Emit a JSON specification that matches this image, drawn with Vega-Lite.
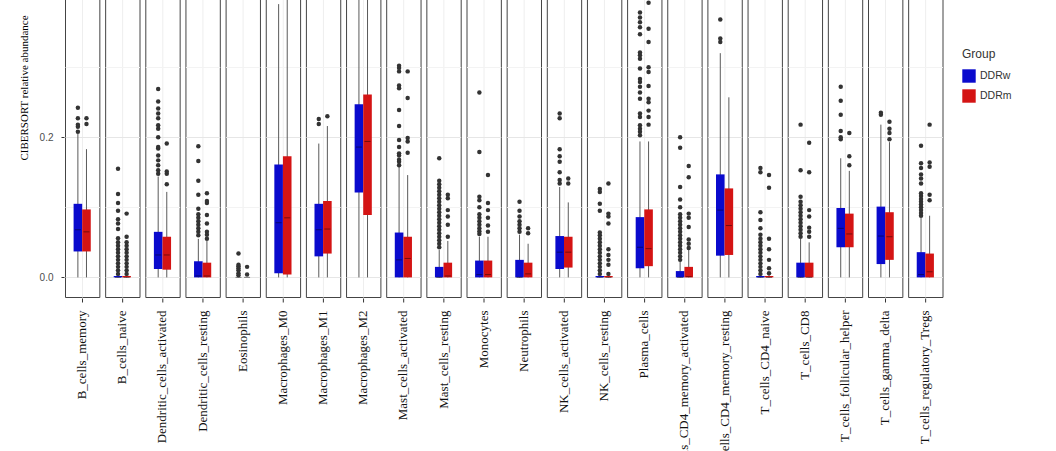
{
  "$schema": "https://vega.github.io/schema/vega-lite/v6.json",
  "background": "white",
  "padding": {"left": 18, "top": -123, "right": 0, "bottom": 0},
  "config": {
    "view": {"stroke": "#444444", "strokeWidth": 1},
    "font": "Liberation Sans",
    "legend": {"titleFont": "Liberation Sans", "titleFontSize": 12, "titleFontWeight": "normal", "titleColor": "#333333", "titlePadding": 8, "labelFont": "Liberation Sans", "labelFontSize": 10.5, "labelColor": "#333333", "symbolType": "square", "symbolSize": 180, "symbolStrokeWidth": 0, "symbolOpacity": 1, "rowPadding": 6}
  },
  "data": {"values": [
    {"cell":"B_cells_memory","group":"DDRw","lo":0,"q1":0.037,"med":0.068,"q3":0.105,"hi":0.205},
    {"cell":"B_cells_memory","group":"DDRm","lo":0,"q1":0.037,"med":0.065,"q3":0.097,"hi":0.183},
    {"cell":"B_cells_naive","group":"DDRw","lo":0,"q1":0,"med":0,"q3":0.002,"hi":0.004},
    {"cell":"B_cells_naive","group":"DDRm","lo":0,"q1":0,"med":0,"q3":0.002,"hi":0.004},
    {"cell":"Dendritic_cells_activated","group":"DDRw","lo":0,"q1":0.012,"med":0.032,"q3":0.065,"hi":0.144},
    {"cell":"Dendritic_cells_activated","group":"DDRm","lo":0,"q1":0.011,"med":0.032,"q3":0.058,"hi":0.122},
    {"cell":"Dendritic_cells_resting","group":"DDRw","lo":0,"q1":0,"med":0.002,"q3":0.023,"hi":0.055},
    {"cell":"Dendritic_cells_resting","group":"DDRm","lo":0,"q1":0,"med":0.002,"q3":0.021,"hi":0.052},
    {"cell":"Eosinophils","group":"DDRw","lo":0,"q1":0,"med":0,"q3":0,"hi":0},
    {"cell":"Eosinophils","group":"DDRm","lo":0,"q1":0,"med":0,"q3":0,"hi":0},
    {"cell":"Macrophages_M0","group":"DDRw","lo":0,"q1":0.006,"med":0.078,"q3":0.161,"hi":0.39},
    {"cell":"Macrophages_M0","group":"DDRm","lo":0,"q1":0.004,"med":0.085,"q3":0.173,"hi":0.42},
    {"cell":"Macrophages_M1","group":"DDRw","lo":0,"q1":0.030,"med":0.068,"q3":0.105,"hi":0.191},
    {"cell":"Macrophages_M1","group":"DDRm","lo":0,"q1":0.034,"med":0.069,"q3":0.109,"hi":0.216},
    {"cell":"Macrophages_M2","group":"DDRw","lo":0,"q1":0.121,"med":0.186,"q3":0.247,"hi":0.43},
    {"cell":"Macrophages_M2","group":"DDRm","lo":0,"q1":0.089,"med":0.194,"q3":0.261,"hi":0.5},
    {"cell":"Mast_cells_activated","group":"DDRw","lo":0,"q1":0,"med":0.025,"q3":0.064,"hi":0.158},
    {"cell":"Mast_cells_activated","group":"DDRm","lo":0,"q1":0,"med":0.027,"q3":0.058,"hi":0.146},
    {"cell":"Mast_cells_resting","group":"DDRw","lo":0,"q1":0,"med":0,"q3":0.015,"hi":0.039},
    {"cell":"Mast_cells_resting","group":"DDRm","lo":0,"q1":0,"med":0.002,"q3":0.021,"hi":0.052},
    {"cell":"Monocytes","group":"DDRw","lo":0,"q1":0,"med":0.004,"q3":0.024,"hi":0.058},
    {"cell":"Monocytes","group":"DDRm","lo":0,"q1":0,"med":0.004,"q3":0.024,"hi":0.058},
    {"cell":"Neutrophils","group":"DDRw","lo":0,"q1":0,"med":0,"q3":0.025,"hi":0.061},
    {"cell":"Neutrophils","group":"DDRm","lo":0,"q1":0,"med":0.005,"q3":0.021,"hi":0.048},
    {"cell":"NK_cells_activated","group":"DDRw","lo":0,"q1":0.012,"med":0.036,"q3":0.059,"hi":0.129},
    {"cell":"NK_cells_activated","group":"DDRm","lo":0,"q1":0.014,"med":0.036,"q3":0.058,"hi":0.107},
    {"cell":"NK_cells_resting","group":"DDRw","lo":0,"q1":0,"med":0,"q3":0.002,"hi":0.004},
    {"cell":"NK_cells_resting","group":"DDRm","lo":0,"q1":0,"med":0,"q3":0.002,"hi":0.004},
    {"cell":"Plasma_cells","group":"DDRw","lo":0,"q1":0.013,"med":0.043,"q3":0.086,"hi":0.194},
    {"cell":"Plasma_cells","group":"DDRm","lo":0,"q1":0.016,"med":0.041,"q3":0.097,"hi":0.194},
    {"cell":"T_cells_CD4_memory_activated","group":"DDRw","lo":0,"q1":0,"med":0,"q3":0.009,"hi":0.023},
    {"cell":"T_cells_CD4_memory_activated","group":"DDRm","lo":0,"q1":0,"med":0.001,"q3":0.015,"hi":0.039},
    {"cell":"T_cells_CD4_memory_resting","group":"DDRw","lo":0,"q1":0.031,"med":0.096,"q3":0.147,"hi":0.32},
    {"cell":"T_cells_CD4_memory_resting","group":"DDRm","lo":0,"q1":0.032,"med":0.074,"q3":0.127,"hi":0.257},
    {"cell":"T_cells_CD4_naive","group":"DDRw","lo":0,"q1":0,"med":0,"q3":0.002,"hi":0.004},
    {"cell":"T_cells_CD4_naive","group":"DDRm","lo":0,"q1":0,"med":0,"q3":0.002,"hi":0.004},
    {"cell":"T_cells_CD8","group":"DDRw","lo":0,"q1":0,"med":0,"q3":0.021,"hi":0.055},
    {"cell":"T_cells_CD8","group":"DDRm","lo":0,"q1":0,"med":0,"q3":0.021,"hi":0.05},
    {"cell":"T_cells_follicular_helper","group":"DDRw","lo":0,"q1":0.043,"med":0.07,"q3":0.099,"hi":0.17},
    {"cell":"T_cells_follicular_helper","group":"DDRm","lo":0,"q1":0.043,"med":0.062,"q3":0.091,"hi":0.152},
    {"cell":"T_cells_gamma_delta","group":"DDRw","lo":0,"q1":0.019,"med":0.059,"q3":0.101,"hi":0.218},
    {"cell":"T_cells_gamma_delta","group":"DDRm","lo":0,"q1":0.025,"med":0.058,"q3":0.093,"hi":0.193},
    {"cell":"T_cells_regulatory_Tregs","group":"DDRw","lo":0,"q1":0,"med":0.004,"q3":0.036,"hi":0.085},
    {"cell":"T_cells_regulatory_Tregs","group":"DDRm","lo":0,"q1":0,"med":0.008,"q3":0.034,"hi":0.088},

    {"cell":"B_cells_memory","group":"DDRw","v":0.208},{"cell":"B_cells_memory","group":"DDRw","v":0.215},{"cell":"B_cells_memory","group":"DDRw","v":0.218},{"cell":"B_cells_memory","group":"DDRw","v":0.227},{"cell":"B_cells_memory","group":"DDRw","v":0.242},
    {"cell":"B_cells_memory","group":"DDRm","v":0.219},{"cell":"B_cells_memory","group":"DDRm","v":0.227},

    {"cell":"B_cells_naive","group":"DDRw","v":0.005},{"cell":"B_cells_naive","group":"DDRw","v":0.01},{"cell":"B_cells_naive","group":"DDRw","v":0.015},{"cell":"B_cells_naive","group":"DDRw","v":0.02},{"cell":"B_cells_naive","group":"DDRw","v":0.025},{"cell":"B_cells_naive","group":"DDRw","v":0.03},{"cell":"B_cells_naive","group":"DDRw","v":0.035},{"cell":"B_cells_naive","group":"DDRw","v":0.04},{"cell":"B_cells_naive","group":"DDRw","v":0.045},{"cell":"B_cells_naive","group":"DDRw","v":0.05},{"cell":"B_cells_naive","group":"DDRw","v":0.056},{"cell":"B_cells_naive","group":"DDRw","v":0.069},{"cell":"B_cells_naive","group":"DDRw","v":0.077},{"cell":"B_cells_naive","group":"DDRw","v":0.083},{"cell":"B_cells_naive","group":"DDRw","v":0.095},{"cell":"B_cells_naive","group":"DDRw","v":0.106},{"cell":"B_cells_naive","group":"DDRw","v":0.119},{"cell":"B_cells_naive","group":"DDRw","v":0.155},
    {"cell":"B_cells_naive","group":"DDRm","v":0.005},{"cell":"B_cells_naive","group":"DDRm","v":0.01},{"cell":"B_cells_naive","group":"DDRm","v":0.015},{"cell":"B_cells_naive","group":"DDRm","v":0.02},{"cell":"B_cells_naive","group":"DDRm","v":0.025},{"cell":"B_cells_naive","group":"DDRm","v":0.03},{"cell":"B_cells_naive","group":"DDRm","v":0.035},{"cell":"B_cells_naive","group":"DDRm","v":0.04},{"cell":"B_cells_naive","group":"DDRm","v":0.045},{"cell":"B_cells_naive","group":"DDRm","v":0.05},{"cell":"B_cells_naive","group":"DDRm","v":0.058},{"cell":"B_cells_naive","group":"DDRm","v":0.091},

    {"cell":"Dendritic_cells_activated","group":"DDRw","v":0.148},{"cell":"Dendritic_cells_activated","group":"DDRw","v":0.153},{"cell":"Dendritic_cells_activated","group":"DDRw","v":0.16},{"cell":"Dendritic_cells_activated","group":"DDRw","v":0.167},{"cell":"Dendritic_cells_activated","group":"DDRw","v":0.174},{"cell":"Dendritic_cells_activated","group":"DDRw","v":0.184},{"cell":"Dendritic_cells_activated","group":"DDRw","v":0.186},{"cell":"Dendritic_cells_activated","group":"DDRw","v":0.2},{"cell":"Dendritic_cells_activated","group":"DDRw","v":0.212},{"cell":"Dendritic_cells_activated","group":"DDRw","v":0.217},{"cell":"Dendritic_cells_activated","group":"DDRw","v":0.227},{"cell":"Dendritic_cells_activated","group":"DDRw","v":0.234},{"cell":"Dendritic_cells_activated","group":"DDRw","v":0.241},{"cell":"Dendritic_cells_activated","group":"DDRw","v":0.251},{"cell":"Dendritic_cells_activated","group":"DDRw","v":0.269},
    {"cell":"Dendritic_cells_activated","group":"DDRm","v":0.133},{"cell":"Dendritic_cells_activated","group":"DDRm","v":0.148},{"cell":"Dendritic_cells_activated","group":"DDRm","v":0.151},{"cell":"Dendritic_cells_activated","group":"DDRm","v":0.191},

    {"cell":"Dendritic_cells_resting","group":"DDRw","v":0.06},{"cell":"Dendritic_cells_resting","group":"DDRw","v":0.065},{"cell":"Dendritic_cells_resting","group":"DDRw","v":0.07},{"cell":"Dendritic_cells_resting","group":"DDRw","v":0.075},{"cell":"Dendritic_cells_resting","group":"DDRw","v":0.08},{"cell":"Dendritic_cells_resting","group":"DDRw","v":0.085},{"cell":"Dendritic_cells_resting","group":"DDRw","v":0.09},{"cell":"Dendritic_cells_resting","group":"DDRw","v":0.098},{"cell":"Dendritic_cells_resting","group":"DDRw","v":0.118},{"cell":"Dendritic_cells_resting","group":"DDRw","v":0.138},{"cell":"Dendritic_cells_resting","group":"DDRw","v":0.166},{"cell":"Dendritic_cells_resting","group":"DDRw","v":0.187},
    {"cell":"Dendritic_cells_resting","group":"DDRm","v":0.055},{"cell":"Dendritic_cells_resting","group":"DDRm","v":0.061},{"cell":"Dendritic_cells_resting","group":"DDRm","v":0.065},{"cell":"Dendritic_cells_resting","group":"DDRm","v":0.077},{"cell":"Dendritic_cells_resting","group":"DDRm","v":0.089},{"cell":"Dendritic_cells_resting","group":"DDRm","v":0.106},{"cell":"Dendritic_cells_resting","group":"DDRm","v":0.109},{"cell":"Dendritic_cells_resting","group":"DDRm","v":0.12},

    {"cell":"Eosinophils","group":"DDRw","v":0.003},{"cell":"Eosinophils","group":"DDRw","v":0.006},{"cell":"Eosinophils","group":"DDRw","v":0.01},{"cell":"Eosinophils","group":"DDRw","v":0.013},{"cell":"Eosinophils","group":"DDRw","v":0.016},{"cell":"Eosinophils","group":"DDRw","v":0.018},{"cell":"Eosinophils","group":"DDRw","v":0.034},
    {"cell":"Eosinophils","group":"DDRm","v":0.004},{"cell":"Eosinophils","group":"DDRm","v":0.015},

    {"cell":"Macrophages_M1","group":"DDRw","v":0.219},{"cell":"Macrophages_M1","group":"DDRw","v":0.226},
    {"cell":"Macrophages_M1","group":"DDRm","v":0.23},

    {"cell":"Mast_cells_activated","group":"DDRw","v":0.16},{"cell":"Mast_cells_activated","group":"DDRw","v":0.165},{"cell":"Mast_cells_activated","group":"DDRw","v":0.168},{"cell":"Mast_cells_activated","group":"DDRw","v":0.174},{"cell":"Mast_cells_activated","group":"DDRw","v":0.177},{"cell":"Mast_cells_activated","group":"DDRw","v":0.186},{"cell":"Mast_cells_activated","group":"DDRw","v":0.196},{"cell":"Mast_cells_activated","group":"DDRw","v":0.216},{"cell":"Mast_cells_activated","group":"DDRw","v":0.239},{"cell":"Mast_cells_activated","group":"DDRw","v":0.27},{"cell":"Mast_cells_activated","group":"DDRw","v":0.274},{"cell":"Mast_cells_activated","group":"DDRw","v":0.294},{"cell":"Mast_cells_activated","group":"DDRw","v":0.299},{"cell":"Mast_cells_activated","group":"DDRw","v":0.302},
    {"cell":"Mast_cells_activated","group":"DDRm","v":0.178},{"cell":"Mast_cells_activated","group":"DDRm","v":0.194},{"cell":"Mast_cells_activated","group":"DDRm","v":0.199},{"cell":"Mast_cells_activated","group":"DDRm","v":0.256},{"cell":"Mast_cells_activated","group":"DDRm","v":0.294},

    {"cell":"Mast_cells_resting","group":"DDRw","v":0.043},{"cell":"Mast_cells_resting","group":"DDRw","v":0.048},{"cell":"Mast_cells_resting","group":"DDRw","v":0.053},{"cell":"Mast_cells_resting","group":"DDRw","v":0.058},{"cell":"Mast_cells_resting","group":"DDRw","v":0.063},{"cell":"Mast_cells_resting","group":"DDRw","v":0.068},{"cell":"Mast_cells_resting","group":"DDRw","v":0.073},{"cell":"Mast_cells_resting","group":"DDRw","v":0.078},{"cell":"Mast_cells_resting","group":"DDRw","v":0.083},{"cell":"Mast_cells_resting","group":"DDRw","v":0.088},{"cell":"Mast_cells_resting","group":"DDRw","v":0.093},{"cell":"Mast_cells_resting","group":"DDRw","v":0.098},{"cell":"Mast_cells_resting","group":"DDRw","v":0.103},{"cell":"Mast_cells_resting","group":"DDRw","v":0.108},{"cell":"Mast_cells_resting","group":"DDRw","v":0.113},{"cell":"Mast_cells_resting","group":"DDRw","v":0.118},{"cell":"Mast_cells_resting","group":"DDRw","v":0.123},{"cell":"Mast_cells_resting","group":"DDRw","v":0.128},{"cell":"Mast_cells_resting","group":"DDRw","v":0.133},{"cell":"Mast_cells_resting","group":"DDRw","v":0.138},{"cell":"Mast_cells_resting","group":"DDRw","v":0.17},
    {"cell":"Mast_cells_resting","group":"DDRm","v":0.058},{"cell":"Mast_cells_resting","group":"DDRm","v":0.075},{"cell":"Mast_cells_resting","group":"DDRm","v":0.087},{"cell":"Mast_cells_resting","group":"DDRm","v":0.096},{"cell":"Mast_cells_resting","group":"DDRm","v":0.113},{"cell":"Mast_cells_resting","group":"DDRm","v":0.118},

    {"cell":"Monocytes","group":"DDRw","v":0.062},{"cell":"Monocytes","group":"DDRw","v":0.066},{"cell":"Monocytes","group":"DDRw","v":0.07},{"cell":"Monocytes","group":"DDRw","v":0.075},{"cell":"Monocytes","group":"DDRw","v":0.08},{"cell":"Monocytes","group":"DDRw","v":0.085},{"cell":"Monocytes","group":"DDRw","v":0.09},{"cell":"Monocytes","group":"DDRw","v":0.1},{"cell":"Monocytes","group":"DDRw","v":0.11},{"cell":"Monocytes","group":"DDRw","v":0.115},{"cell":"Monocytes","group":"DDRw","v":0.179},{"cell":"Monocytes","group":"DDRw","v":0.264},
    {"cell":"Monocytes","group":"DDRm","v":0.065},{"cell":"Monocytes","group":"DDRm","v":0.074},{"cell":"Monocytes","group":"DDRm","v":0.085},{"cell":"Monocytes","group":"DDRm","v":0.096},{"cell":"Monocytes","group":"DDRm","v":0.106},{"cell":"Monocytes","group":"DDRm","v":0.146},

    {"cell":"Neutrophils","group":"DDRw","v":0.065},{"cell":"Neutrophils","group":"DDRw","v":0.07},{"cell":"Neutrophils","group":"DDRw","v":0.075},{"cell":"Neutrophils","group":"DDRw","v":0.08},{"cell":"Neutrophils","group":"DDRw","v":0.087},{"cell":"Neutrophils","group":"DDRw","v":0.095},{"cell":"Neutrophils","group":"DDRw","v":0.108},
    {"cell":"Neutrophils","group":"DDRm","v":0.063},{"cell":"Neutrophils","group":"DDRm","v":0.07},

    {"cell":"NK_cells_activated","group":"DDRw","v":0.134},{"cell":"NK_cells_activated","group":"DDRw","v":0.139},{"cell":"NK_cells_activated","group":"DDRw","v":0.15},{"cell":"NK_cells_activated","group":"DDRw","v":0.165},{"cell":"NK_cells_activated","group":"DDRw","v":0.173},{"cell":"NK_cells_activated","group":"DDRw","v":0.183},{"cell":"NK_cells_activated","group":"DDRw","v":0.227},{"cell":"NK_cells_activated","group":"DDRw","v":0.234},
    {"cell":"NK_cells_activated","group":"DDRm","v":0.134},{"cell":"NK_cells_activated","group":"DDRm","v":0.141},

    {"cell":"NK_cells_resting","group":"DDRw","v":0.005},{"cell":"NK_cells_resting","group":"DDRw","v":0.01},{"cell":"NK_cells_resting","group":"DDRw","v":0.015},{"cell":"NK_cells_resting","group":"DDRw","v":0.02},{"cell":"NK_cells_resting","group":"DDRw","v":0.025},{"cell":"NK_cells_resting","group":"DDRw","v":0.03},{"cell":"NK_cells_resting","group":"DDRw","v":0.035},{"cell":"NK_cells_resting","group":"DDRw","v":0.04},{"cell":"NK_cells_resting","group":"DDRw","v":0.045},{"cell":"NK_cells_resting","group":"DDRw","v":0.05},{"cell":"NK_cells_resting","group":"DDRw","v":0.055},{"cell":"NK_cells_resting","group":"DDRw","v":0.06},{"cell":"NK_cells_resting","group":"DDRw","v":0.064},{"cell":"NK_cells_resting","group":"DDRw","v":0.095},{"cell":"NK_cells_resting","group":"DDRw","v":0.105},{"cell":"NK_cells_resting","group":"DDRw","v":0.122},{"cell":"NK_cells_resting","group":"DDRw","v":0.126},
    {"cell":"NK_cells_resting","group":"DDRm","v":0.005},{"cell":"NK_cells_resting","group":"DDRm","v":0.018},{"cell":"NK_cells_resting","group":"DDRm","v":0.025},{"cell":"NK_cells_resting","group":"DDRm","v":0.032},{"cell":"NK_cells_resting","group":"DDRm","v":0.04},{"cell":"NK_cells_resting","group":"DDRm","v":0.077},{"cell":"NK_cells_resting","group":"DDRm","v":0.087},{"cell":"NK_cells_resting","group":"DDRm","v":0.091},{"cell":"NK_cells_resting","group":"DDRm","v":0.134},

    {"cell":"Plasma_cells","group":"DDRw","v":0.203},{"cell":"Plasma_cells","group":"DDRw","v":0.208},{"cell":"Plasma_cells","group":"DDRw","v":0.212},{"cell":"Plasma_cells","group":"DDRw","v":0.217},{"cell":"Plasma_cells","group":"DDRw","v":0.229},{"cell":"Plasma_cells","group":"DDRw","v":0.234},{"cell":"Plasma_cells","group":"DDRw","v":0.255},{"cell":"Plasma_cells","group":"DDRw","v":0.264},{"cell":"Plasma_cells","group":"DDRw","v":0.272},{"cell":"Plasma_cells","group":"DDRw","v":0.279},{"cell":"Plasma_cells","group":"DDRw","v":0.283},{"cell":"Plasma_cells","group":"DDRw","v":0.298},{"cell":"Plasma_cells","group":"DDRw","v":0.312},{"cell":"Plasma_cells","group":"DDRw","v":0.317},{"cell":"Plasma_cells","group":"DDRw","v":0.321},{"cell":"Plasma_cells","group":"DDRw","v":0.347},{"cell":"Plasma_cells","group":"DDRw","v":0.357},{"cell":"Plasma_cells","group":"DDRw","v":0.364},{"cell":"Plasma_cells","group":"DDRw","v":0.371},{"cell":"Plasma_cells","group":"DDRw","v":0.378},{"cell":"Plasma_cells","group":"DDRw","v":0.41},{"cell":"Plasma_cells","group":"DDRw","v":0.45},
    {"cell":"Plasma_cells","group":"DDRm","v":0.218},{"cell":"Plasma_cells","group":"DDRm","v":0.229},{"cell":"Plasma_cells","group":"DDRm","v":0.238},{"cell":"Plasma_cells","group":"DDRm","v":0.25},{"cell":"Plasma_cells","group":"DDRm","v":0.255},{"cell":"Plasma_cells","group":"DDRm","v":0.273},{"cell":"Plasma_cells","group":"DDRm","v":0.293},{"cell":"Plasma_cells","group":"DDRm","v":0.3},{"cell":"Plasma_cells","group":"DDRm","v":0.336},{"cell":"Plasma_cells","group":"DDRm","v":0.355},{"cell":"Plasma_cells","group":"DDRm","v":0.392},

    {"cell":"T_cells_CD4_memory_activated","group":"DDRw","v":0.025},{"cell":"T_cells_CD4_memory_activated","group":"DDRw","v":0.03},{"cell":"T_cells_CD4_memory_activated","group":"DDRw","v":0.035},{"cell":"T_cells_CD4_memory_activated","group":"DDRw","v":0.04},{"cell":"T_cells_CD4_memory_activated","group":"DDRw","v":0.045},{"cell":"T_cells_CD4_memory_activated","group":"DDRw","v":0.05},{"cell":"T_cells_CD4_memory_activated","group":"DDRw","v":0.055},{"cell":"T_cells_CD4_memory_activated","group":"DDRw","v":0.06},{"cell":"T_cells_CD4_memory_activated","group":"DDRw","v":0.065},{"cell":"T_cells_CD4_memory_activated","group":"DDRw","v":0.07},{"cell":"T_cells_CD4_memory_activated","group":"DDRw","v":0.075},{"cell":"T_cells_CD4_memory_activated","group":"DDRw","v":0.08},{"cell":"T_cells_CD4_memory_activated","group":"DDRw","v":0.085},{"cell":"T_cells_CD4_memory_activated","group":"DDRw","v":0.09},{"cell":"T_cells_CD4_memory_activated","group":"DDRw","v":0.1},{"cell":"T_cells_CD4_memory_activated","group":"DDRw","v":0.111},{"cell":"T_cells_CD4_memory_activated","group":"DDRw","v":0.129},{"cell":"T_cells_CD4_memory_activated","group":"DDRw","v":0.185},{"cell":"T_cells_CD4_memory_activated","group":"DDRw","v":0.2},
    {"cell":"T_cells_CD4_memory_activated","group":"DDRm","v":0.042},{"cell":"T_cells_CD4_memory_activated","group":"DDRm","v":0.048},{"cell":"T_cells_CD4_memory_activated","group":"DDRm","v":0.054},{"cell":"T_cells_CD4_memory_activated","group":"DDRm","v":0.072},{"cell":"T_cells_CD4_memory_activated","group":"DDRm","v":0.085},{"cell":"T_cells_CD4_memory_activated","group":"DDRm","v":0.091},{"cell":"T_cells_CD4_memory_activated","group":"DDRm","v":0.143},{"cell":"T_cells_CD4_memory_activated","group":"DDRm","v":0.159},

    {"cell":"T_cells_CD4_memory_resting","group":"DDRw","v":0.336},{"cell":"T_cells_CD4_memory_resting","group":"DDRw","v":0.341},{"cell":"T_cells_CD4_memory_resting","group":"DDRw","v":0.368},

    {"cell":"T_cells_CD4_naive","group":"DDRw","v":0.005},{"cell":"T_cells_CD4_naive","group":"DDRw","v":0.01},{"cell":"T_cells_CD4_naive","group":"DDRw","v":0.015},{"cell":"T_cells_CD4_naive","group":"DDRw","v":0.02},{"cell":"T_cells_CD4_naive","group":"DDRw","v":0.025},{"cell":"T_cells_CD4_naive","group":"DDRw","v":0.03},{"cell":"T_cells_CD4_naive","group":"DDRw","v":0.035},{"cell":"T_cells_CD4_naive","group":"DDRw","v":0.04},{"cell":"T_cells_CD4_naive","group":"DDRw","v":0.045},{"cell":"T_cells_CD4_naive","group":"DDRw","v":0.05},{"cell":"T_cells_CD4_naive","group":"DDRw","v":0.055},{"cell":"T_cells_CD4_naive","group":"DDRw","v":0.061},{"cell":"T_cells_CD4_naive","group":"DDRw","v":0.07},{"cell":"T_cells_CD4_naive","group":"DDRw","v":0.082},{"cell":"T_cells_CD4_naive","group":"DDRw","v":0.093},{"cell":"T_cells_CD4_naive","group":"DDRw","v":0.15},{"cell":"T_cells_CD4_naive","group":"DDRw","v":0.156},
    {"cell":"T_cells_CD4_naive","group":"DDRm","v":0.006},{"cell":"T_cells_CD4_naive","group":"DDRm","v":0.013},{"cell":"T_cells_CD4_naive","group":"DDRm","v":0.025},{"cell":"T_cells_CD4_naive","group":"DDRm","v":0.04},{"cell":"T_cells_CD4_naive","group":"DDRm","v":0.055},{"cell":"T_cells_CD4_naive","group":"DDRm","v":0.128},{"cell":"T_cells_CD4_naive","group":"DDRm","v":0.146},

    {"cell":"T_cells_CD8","group":"DDRw","v":0.058},{"cell":"T_cells_CD8","group":"DDRw","v":0.063},{"cell":"T_cells_CD8","group":"DDRw","v":0.068},{"cell":"T_cells_CD8","group":"DDRw","v":0.073},{"cell":"T_cells_CD8","group":"DDRw","v":0.078},{"cell":"T_cells_CD8","group":"DDRw","v":0.083},{"cell":"T_cells_CD8","group":"DDRw","v":0.088},{"cell":"T_cells_CD8","group":"DDRw","v":0.093},{"cell":"T_cells_CD8","group":"DDRw","v":0.098},{"cell":"T_cells_CD8","group":"DDRw","v":0.103},{"cell":"T_cells_CD8","group":"DDRw","v":0.108},{"cell":"T_cells_CD8","group":"DDRw","v":0.115},{"cell":"T_cells_CD8","group":"DDRw","v":0.153},{"cell":"T_cells_CD8","group":"DDRw","v":0.218},
    {"cell":"T_cells_CD8","group":"DDRm","v":0.058},{"cell":"T_cells_CD8","group":"DDRm","v":0.065},{"cell":"T_cells_CD8","group":"DDRm","v":0.071},{"cell":"T_cells_CD8","group":"DDRm","v":0.087},{"cell":"T_cells_CD8","group":"DDRm","v":0.096},{"cell":"T_cells_CD8","group":"DDRm","v":0.15},{"cell":"T_cells_CD8","group":"DDRm","v":0.192},

    {"cell":"T_cells_follicular_helper","group":"DDRw","v":0.197},{"cell":"T_cells_follicular_helper","group":"DDRw","v":0.2},{"cell":"T_cells_follicular_helper","group":"DDRw","v":0.209},{"cell":"T_cells_follicular_helper","group":"DDRw","v":0.232},{"cell":"T_cells_follicular_helper","group":"DDRw","v":0.252},{"cell":"T_cells_follicular_helper","group":"DDRw","v":0.272},
    {"cell":"T_cells_follicular_helper","group":"DDRm","v":0.16},{"cell":"T_cells_follicular_helper","group":"DDRm","v":0.173},{"cell":"T_cells_follicular_helper","group":"DDRm","v":0.206},

    {"cell":"T_cells_gamma_delta","group":"DDRw","v":0.232},{"cell":"T_cells_gamma_delta","group":"DDRw","v":0.235},
    {"cell":"T_cells_gamma_delta","group":"DDRm","v":0.197},{"cell":"T_cells_gamma_delta","group":"DDRm","v":0.206},{"cell":"T_cells_gamma_delta","group":"DDRm","v":0.212},{"cell":"T_cells_gamma_delta","group":"DDRm","v":0.222},

    {"cell":"T_cells_regulatory_Tregs","group":"DDRw","v":0.088},{"cell":"T_cells_regulatory_Tregs","group":"DDRw","v":0.092},{"cell":"T_cells_regulatory_Tregs","group":"DDRw","v":0.096},{"cell":"T_cells_regulatory_Tregs","group":"DDRw","v":0.1},{"cell":"T_cells_regulatory_Tregs","group":"DDRw","v":0.104},{"cell":"T_cells_regulatory_Tregs","group":"DDRw","v":0.108},{"cell":"T_cells_regulatory_Tregs","group":"DDRw","v":0.112},{"cell":"T_cells_regulatory_Tregs","group":"DDRw","v":0.116},{"cell":"T_cells_regulatory_Tregs","group":"DDRw","v":0.12},{"cell":"T_cells_regulatory_Tregs","group":"DDRw","v":0.134},{"cell":"T_cells_regulatory_Tregs","group":"DDRw","v":0.141},{"cell":"T_cells_regulatory_Tregs","group":"DDRw","v":0.147},{"cell":"T_cells_regulatory_Tregs","group":"DDRw","v":0.156},{"cell":"T_cells_regulatory_Tregs","group":"DDRw","v":0.163},{"cell":"T_cells_regulatory_Tregs","group":"DDRw","v":0.188},
    {"cell":"T_cells_regulatory_Tregs","group":"DDRm","v":0.11},{"cell":"T_cells_regulatory_Tregs","group":"DDRm","v":0.118},{"cell":"T_cells_regulatory_Tregs","group":"DDRm","v":0.158},{"cell":"T_cells_regulatory_Tregs","group":"DDRm","v":0.164},{"cell":"T_cells_regulatory_Tregs","group":"DDRm","v":0.218}
  ]},
  "facet": {"column": {"field": "cell", "type": "nominal", "title": null,
    "sort": ["B_cells_memory","B_cells_naive","Dendritic_cells_activated","Dendritic_cells_resting","Eosinophils","Macrophages_M0","Macrophages_M1","Macrophages_M2","Mast_cells_activated","Mast_cells_resting","Monocytes","Neutrophils","NK_cells_activated","NK_cells_resting","Plasma_cells","T_cells_CD4_memory_activated","T_cells_CD4_memory_resting","T_cells_CD4_naive","T_cells_CD8","T_cells_follicular_helper","T_cells_gamma_delta","T_cells_regulatory_Tregs"],
    "header": {"labelOrient": "bottom", "labelAngle": -90, "labelAlign": "right", "labelBaseline": "middle", "labelFont": "Liberation Serif", "labelFontSize": 13, "labelColor": "#111111", "labelPadding": 8, "labelLimit": 0}}},
  "spacing": 4.15,
  "spec": {
    "width": 34.35,
    "height": 419,
    "encoding": {
      "x": {"field": "group", "type": "nominal",
        "scale": {"type": "band", "domain": ["DDRw", "DDRm"], "paddingInner": 0, "paddingOuter": 1.86},
        "axis": {"values": ["DDRw"], "bandPosition": 1, "labels": false, "title": null, "domain": false, "ticks": true, "tickSize": 4, "tickColor": "#333333", "grid": true, "gridColor": "#eeeeee"}}
    },
    "layer": [
      {
        "transform": [{"filter": {"field": "q1", "valid": true}}],
        "mark": {"type": "rule", "color": "#5a5a5a", "strokeWidth": 1},
        "encoding": {
          "y": {"field": "lo", "type": "quantitative", "title": "CIBERSORT relative abundance",
            "scale": {"domain": [-0.028, 0.57], "nice": false, "zero": false},
            "axis": {"values": [0, 0.1, 0.2, 0.3], "labelExpr": "round(datum.value*10)%2==0 ? format(datum.value, '.1f') : ''",
              "domain": false, "tickSize": 3, "tickColor": {"condition": {"test": "round(datum.value*10)%2==1", "value": "transparent"}, "value": "#333333"},
              "gridColor": {"condition": {"test": "round(datum.value*10)%2==1", "value": "#f3f3f3"}, "value": "#e6e6e6"},
              "labelFont": "Liberation Sans", "labelFontSize": 10, "labelColor": "#4d4d4d", "labelPadding": 8,
              "titleFont": "Liberation Serif", "titleFontSize": 11, "titleFontWeight": "normal", "titleColor": "#000000", "titlePadding": 10}},
          "y2": {"field": "hi"}
        }
      },
      {
        "transform": [{"filter": {"field": "q1", "valid": true}}],
        "mark": {"type": "bar"},
        "encoding": {
          "y": {"field": "q1", "type": "quantitative", "title": "CIBERSORT relative abundance",
            "scale": {"domain": [-0.028, 0.57], "nice": false, "zero": false},
            "axis": {"values": [0, 0.1, 0.2, 0.3], "labelExpr": "round(datum.value*10)%2==0 ? format(datum.value, '.1f') : ''",
              "domain": false, "tickSize": 3, "tickColor": {"condition": {"test": "round(datum.value*10)%2==1", "value": "transparent"}, "value": "#333333"},
              "gridColor": {"condition": {"test": "round(datum.value*10)%2==1", "value": "#f3f3f3"}, "value": "#e6e6e6"},
              "labelFont": "Liberation Sans", "labelFontSize": 10, "labelColor": "#4d4d4d", "labelPadding": 8,
              "titleFont": "Liberation Serif", "titleFontSize": 11, "titleFontWeight": "normal", "titleColor": "#000000", "titlePadding": 10}},
          "y2": {"field": "q3"},
          "color": {"field": "group", "type": "nominal", "title": "Group",
            "scale": {"domain": ["DDRw", "DDRm"], "range": ["#0A0ACD", "#D41414"]},
            "legend": {"orient": "none", "legendX": 897, "legendY": 171}}
        }
      },
      {
        "transform": [{"filter": {"field": "q1", "valid": true}}],
        "mark": {"type": "tick", "color": "#000000", "opacity": 0.45, "thickness": 1, "size": 6},
        "encoding": {
          "y": {"field": "med", "type": "quantitative", "title": "CIBERSORT relative abundance",
            "scale": {"domain": [-0.028, 0.57], "nice": false, "zero": false},
            "axis": {"values": [0, 0.1, 0.2, 0.3], "labelExpr": "round(datum.value*10)%2==0 ? format(datum.value, '.1f') : ''",
              "domain": false, "tickSize": 3, "tickColor": {"condition": {"test": "round(datum.value*10)%2==1", "value": "transparent"}, "value": "#333333"},
              "gridColor": {"condition": {"test": "round(datum.value*10)%2==1", "value": "#f3f3f3"}, "value": "#e6e6e6"},
              "labelFont": "Liberation Sans", "labelFontSize": 10, "labelColor": "#4d4d4d", "labelPadding": 8,
              "titleFont": "Liberation Serif", "titleFontSize": 11, "titleFontWeight": "normal", "titleColor": "#000000", "titlePadding": 10}}
        }
      },
      {
        "transform": [{"filter": {"field": "v", "valid": true}}],
        "mark": {"type": "circle", "color": "#333333", "opacity": 1, "size": 20},
        "encoding": {
          "y": {"field": "v", "type": "quantitative", "title": "CIBERSORT relative abundance",
            "scale": {"domain": [-0.028, 0.57], "nice": false, "zero": false},
            "axis": {"values": [0, 0.1, 0.2, 0.3], "labelExpr": "round(datum.value*10)%2==0 ? format(datum.value, '.1f') : ''",
              "domain": false, "tickSize": 3, "tickColor": {"condition": {"test": "round(datum.value*10)%2==1", "value": "transparent"}, "value": "#333333"},
              "gridColor": {"condition": {"test": "round(datum.value*10)%2==1", "value": "#f3f3f3"}, "value": "#e6e6e6"},
              "labelFont": "Liberation Sans", "labelFontSize": 10, "labelColor": "#4d4d4d", "labelPadding": 8,
              "titleFont": "Liberation Serif", "titleFontSize": 11, "titleFontWeight": "normal", "titleColor": "#000000", "titlePadding": 10}}
        }
      }
    ]
  }
}
